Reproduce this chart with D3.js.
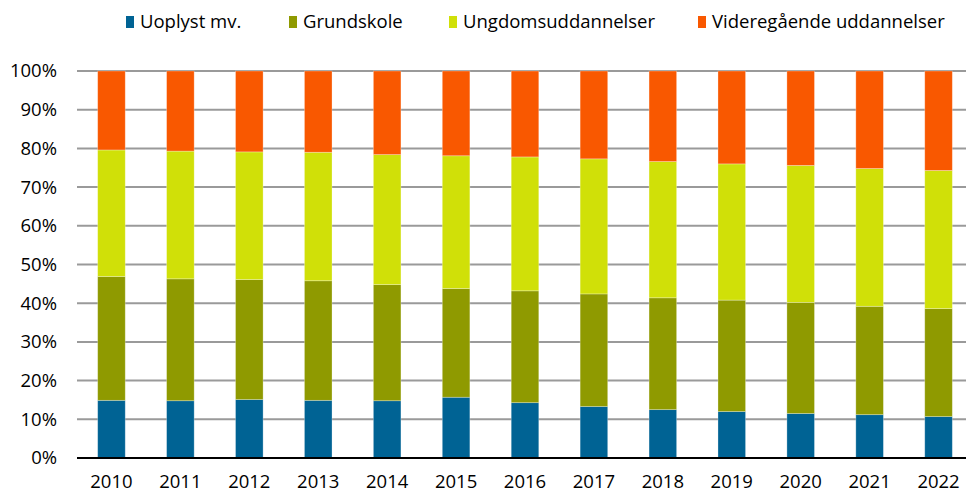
<!DOCTYPE html>
<html>
<head>
<meta charset="utf-8">
<script src="https://cdn.jsdelivr.net/npm/d3@7/dist/d3.min.js"></script>
<style>
  body { margin: 0; background: #fff; }
  svg text { font-family: "Open Sans", sans-serif; fill: #000; }
</style>
</head>
<body>
<div id="chart"></div>
<script>
var years = ["2010","2011","2012","2013","2014","2015","2016","2017","2018","2019","2020","2021","2022"];
var seriesNames = ["Uoplyst mv.", "Grundskole", "Ungdomsuddannelser", "Videregående uddannelser"];
var colors = ["#006394", "#8f9a00", "#d0e008", "#f95800"];

// shares in percent
var uoplyst = [14.9, 14.8, 15.1, 14.9, 14.8, 15.7, 14.3, 13.3, 12.5, 12.0, 11.5, 11.2, 10.7];
var grundskole = [32.0, 31.5, 31.0, 30.9, 30.0, 28.1, 28.9, 29.1, 28.9, 28.8, 28.7, 28.0, 27.9];
var ungdom = [32.7, 33.0, 33.0, 33.2, 33.6, 34.3, 34.6, 34.9, 35.2, 35.2, 35.4, 35.6, 35.7];
var videre = [20.4, 20.7, 20.9, 21.0, 21.6, 21.9, 22.2, 22.7, 23.4, 24.0, 24.4, 25.2, 25.7];
var yTicks = [0, 10, 20, 30, 40, 50, 60, 70, 80, 90, 100];

var W = 966, H = 493;
var margin = {top: 71, right: -7, bottom: 35, left: 77};
var width = W - margin.left - margin.right,
    height = H - margin.top - margin.bottom;

var svg = d3.select("#chart").append("svg")
    .attr("width", W)
    .attr("height", H);

var g = svg.append("g")
    .attr("transform", "translate(" + margin.left + "," + margin.top + ")");

var x = d3.scaleBand().domain(years).range([0, width]).paddingInner(0.6).paddingOuter(0.3);
var y = d3.scaleLinear().domain([0, 100]).range([height, 0]);

var table = years.map(function(yr, i) {
    var row = {year: yr};
    row[seriesNames[0]] = uoplyst[i];
    row[seriesNames[1]] = grundskole[i];
    row[seriesNames[2]] = ungdom[i];
    row[seriesNames[3]] = videre[i];
    return row;
});

var stacked = d3.stack().keys(seriesNames)
    .offset(d3.stackOffsetExpand)(table);

// gridlines
g.append("g")
    .selectAll("line")
    .data(yTicks.filter(function(d) { return d > 0; }))
    .enter().append("line")
    .attr("x1", 0)
    .attr("x2", width)
    .attr("y1", function(d) { return y(d); })
    .attr("y2", function(d) { return y(d); })
    .attr("stroke", "#9a9a9a")
    .attr("stroke-width", 2);

g.append("g")
    .selectAll("g")
    .data(stacked)
    .enter().append("g")
    .attr("fill", function(d, i) { return colors[i]; })
    .selectAll("rect")
    .data(function(d) { return d; })
    .enter().append("rect")
    .attr("x", function(d) { return x(d.data.year); })
    .attr("width", x.bandwidth())
    .attr("y", function(d) { return y(d[1] * 100); })
    .attr("height", function(d) { return y(d[0] * 100) - y(d[1] * 100); })
    .attr("stroke", "#ffffff")
    .attr("stroke-opacity", 0.35)
    .attr("stroke-width", 0.8);

// baseline
g.append("line")
    .attr("x1", 0)
    .attr("x2", width)
    .attr("y1", y(0))
    .attr("y2", y(0))
    .attr("stroke", "#000")
    .attr("stroke-width", 2);

// y labels
g.append("g")
    .selectAll("text")
    .data(yTicks)
    .enter().append("text")
    .attr("x", -20)
    .attr("y", function(d) { return y(d); })
    .attr("dy", "0.35em")
    .attr("text-anchor", "end")
    .style("font-size", "18.5px")
    .text(function(d) { return d + "%"; });

// x labels
g.append("g")
    .selectAll("text")
    .data(years)
    .enter().append("text")
    .attr("x", function(d) { return x(d) + x.bandwidth() / 2; })
    .attr("y", height + 30)
    .attr("text-anchor", "middle")
    .style("font-size", "18.5px")
    .text(function(d) { return d; });

// legend
var legendX = [126, 289, 449, 698];
var legend = svg.append("g")
    .selectAll("g")
    .data(seriesNames)
    .enter().append("g")
    .attr("transform", function(d, i) { return "translate(" + legendX[i] + ",16)"; });

legend.append("rect")
    .attr("width", 8)
    .attr("height", 12)
    .attr("fill", function(d, i) { return colors[i]; });

legend.append("text")
    .attr("x", 14)
    .attr("y", 6)
    .attr("dy", "0.35em")
    .style("font-size", "18.5px")
    .text(function(d) { return d; });
</script>
</body>
</html>
